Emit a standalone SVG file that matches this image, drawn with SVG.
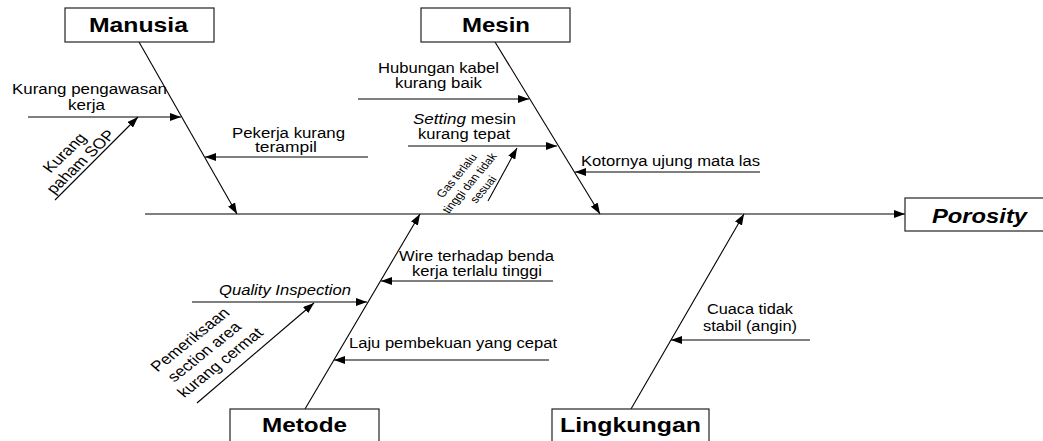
<svg xmlns="http://www.w3.org/2000/svg" width="1043" height="441" viewBox="0 0 1043 441">
  <defs>
    <marker id="arrow" markerUnits="userSpaceOnUse" markerWidth="11" markerHeight="8" refX="11" refY="4" orient="auto">
      <path d="M0,0 L11,4 L0,8 z" fill="#000"/>
    </marker>
    <style>
      .box { fill: #fff; stroke: #222; stroke-width: 1.2; }
      .title { font-family: "Liberation Sans", Arial, sans-serif; font-size: 21px; font-weight: bold; fill: #000; text-anchor: middle; }
      .lbl { font-family: "Liberation Sans", Arial, sans-serif; font-size: 14px; fill: #000; }
      .small { font-family: "Liberation Sans", Arial, sans-serif; font-size: 10.5px; fill: #000; text-anchor: middle; }
      .rot { font-family: "Liberation Sans", Arial, sans-serif; font-size: 14.5px; fill: #000; text-anchor: middle; }
      .mid { text-anchor: middle; }
      .it { font-style: italic; }
      .conn line { stroke: #000; stroke-width: 1.1; marker-end: url(#arrow); }
    </style>
  </defs>
  <rect width="1043" height="441" fill="#fff"/>

  <!-- connectors: spine, category bones and cause arrows -->
  <g id="connectors" class="conn">
    <line x1="145" y1="214" x2="905" y2="214"/>
    <line x1="139" y1="42" x2="237" y2="214"/>
    <line x1="495" y1="42" x2="600" y2="214"/>
    <line x1="305" y1="409" x2="420" y2="214"/>
    <line x1="631" y1="409" x2="744" y2="214"/>

    <line x1="28" y1="117" x2="181" y2="117"/>
    <line x1="55" y1="200" x2="138" y2="117"/>
    <line x1="368" y1="157" x2="205" y2="157"/>

    <line x1="358" y1="99" x2="529" y2="99"/>
    <line x1="408" y1="146" x2="557" y2="146"/>
    <line x1="488" y1="201" x2="517" y2="148"/>
    <line x1="760" y1="172" x2="575" y2="172"/>

    <line x1="553" y1="281" x2="381" y2="281"/>
    <line x1="192" y1="302" x2="367" y2="302"/>
    <line x1="197" y1="403" x2="314" y2="303"/>
    <line x1="549" y1="360" x2="334" y2="360"/>

    <line x1="810" y1="340" x2="671" y2="340"/>
  </g>

  <!-- category and effect boxes -->
  <g id="manusia">
    <rect class="box" x="65" y="8" width="149" height="34"/>
    <text class="title" x="138.5" y="32" textLength="99" lengthAdjust="spacingAndGlyphs">Manusia</text>
  </g>
  <g id="mesin">
    <rect class="box" x="421" y="8" width="149" height="34"/>
    <text class="title" x="496" y="32" textLength="68" lengthAdjust="spacingAndGlyphs">Mesin</text>
  </g>
  <g id="porosity">
    <rect class="box" x="905" y="198" width="145" height="33"/>
    <text class="title it" x="979.5" y="223" textLength="95" lengthAdjust="spacingAndGlyphs">Porosity</text>
  </g>
  <g id="metode">
    <rect class="box" x="230" y="409" width="149" height="40"/>
    <text class="title" x="304.5" y="432" textLength="85" lengthAdjust="spacingAndGlyphs">Metode</text>
  </g>
  <g id="lingkungan">
    <rect class="box" x="552" y="409" width="157" height="40"/>
    <text class="title" x="630.5" y="432" textLength="141" lengthAdjust="spacingAndGlyphs">Lingkungan</text>
  </g>

  <!-- Manusia causes -->
  <g id="c-pengawasan">
    <text class="lbl" x="12" y="94" textLength="155" lengthAdjust="spacingAndGlyphs">Kurang pengawasan</text>
    <text class="lbl mid" x="86.5" y="110" textLength="37" lengthAdjust="spacingAndGlyphs">kerja</text>
  </g>
  <g id="c-sop">
    <text class="rot" transform="translate(85,165) scale(1.2,1) rotate(-49)">
      <tspan x="0" y="-16">Kurang</tspan>
      <tspan x="0" y="0">paham SOP</tspan>
    </text>
  </g>
  <g id="c-terampil">
    <text class="lbl mid" x="288.5" y="138" textLength="113" lengthAdjust="spacingAndGlyphs">Pekerja kurang</text>
    <text class="lbl mid" x="286" y="152" textLength="62" lengthAdjust="spacingAndGlyphs">terampil</text>
  </g>

  <!-- Mesin causes -->
  <g id="c-kabel">
    <text class="lbl mid" x="438.5" y="73" textLength="121" lengthAdjust="spacingAndGlyphs">Hubungan kabel</text>
    <text class="lbl mid" x="438.5" y="88" textLength="87" lengthAdjust="spacingAndGlyphs">kurang baik</text>
  </g>
  <g id="c-setting">
    <text class="lbl mid" x="464.5" y="124" textLength="103" lengthAdjust="spacingAndGlyphs"><tspan class="it">Setting</tspan> mesin</text>
    <text class="lbl mid" x="464" y="139" textLength="92" lengthAdjust="spacingAndGlyphs">kurang tepat</text>
  </g>
  <g id="c-gas">
    <text class="small" transform="translate(474,184) scale(1.2,1) rotate(-55)">
      <tspan x="0" y="-13">Gas terlalu</tspan>
      <tspan x="0" y="0">tinggi dan tidak</tspan>
      <tspan x="0" y="13">sesuai</tspan>
    </text>
  </g>
  <g id="c-kotor">
    <text class="lbl" x="581" y="166" textLength="179" lengthAdjust="spacingAndGlyphs">Kotornya ujung mata las</text>
  </g>

  <!-- Metode causes -->
  <g id="c-wire">
    <text class="lbl mid" x="476.5" y="261" textLength="155" lengthAdjust="spacingAndGlyphs">Wire terhadap benda</text>
    <text class="lbl mid" x="477" y="276" textLength="130" lengthAdjust="spacingAndGlyphs">kerja terlalu tinggi</text>
  </g>
  <g id="c-quality">
    <text class="lbl it" x="219" y="295" textLength="132" lengthAdjust="spacingAndGlyphs">Quality Inspection</text>
  </g>
  <g id="c-pemeriksaan">
    <text class="rot" transform="translate(210,354) scale(1.2,1) rotate(-44)">
      <tspan x="0" y="-17">Pemeriksaan</tspan>
      <tspan x="0" y="0">section area</tspan>
      <tspan x="0" y="17">kurang cermat</tspan>
    </text>
  </g>
  <g id="c-laju">
    <text class="lbl" x="349" y="348" textLength="208" lengthAdjust="spacingAndGlyphs">Laju pembekuan yang cepat</text>
  </g>

  <!-- Lingkungan causes -->
  <g id="c-cuaca">
    <text class="lbl mid" x="750" y="314" textLength="86" lengthAdjust="spacingAndGlyphs">Cuaca tidak</text>
    <text class="lbl mid" x="750" y="331" textLength="94" lengthAdjust="spacingAndGlyphs">stabil (angin)</text>
  </g>
</svg>
